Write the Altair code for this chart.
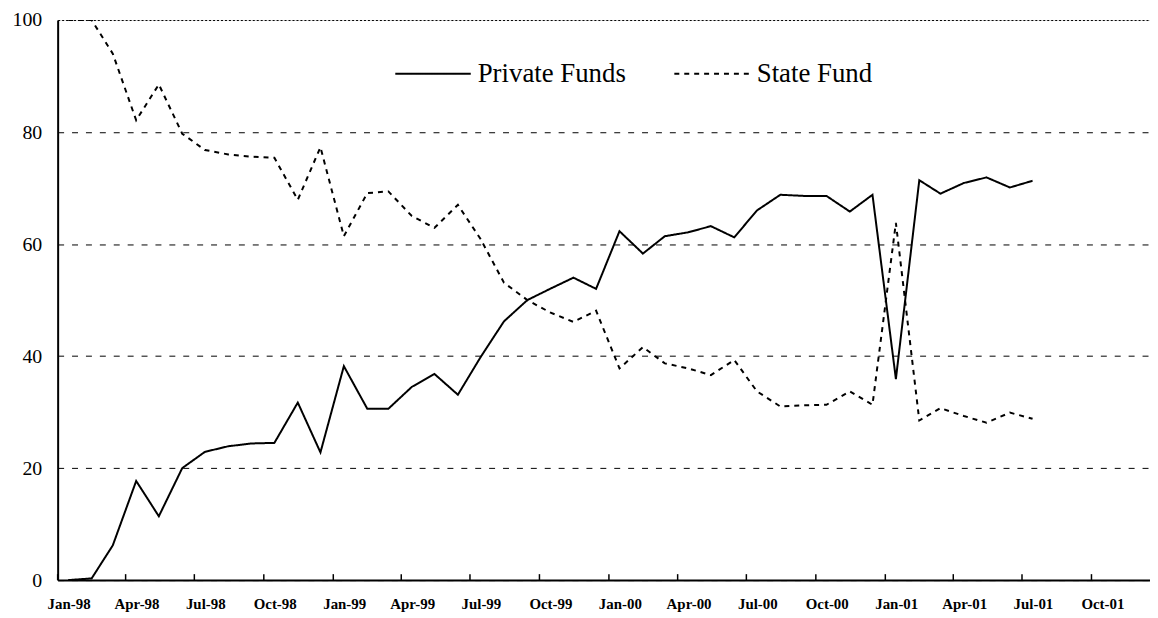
import altair as alt
import pandas as pd

months = [
    "1998-01", "1998-02", "1998-03", "1998-04", "1998-05", "1998-06",
    "1998-07", "1998-08", "1998-09", "1998-10", "1998-11", "1998-12",
    "1999-01", "1999-02", "1999-03", "1999-04", "1999-05", "1999-06",
    "1999-07", "1999-08", "1999-09", "1999-10", "1999-11", "1999-12",
    "2000-01", "2000-02", "2000-03", "2000-04", "2000-05", "2000-06",
    "2000-07", "2000-08", "2000-09", "2000-10", "2000-11", "2000-12",
    "2001-01", "2001-02", "2001-03", "2001-04", "2001-05", "2001-06",
    "2001-07",
]
private_funds = [
    0.0, 0.3, 6.2, 17.7, 11.4, 20.0, 22.9, 23.9, 24.4, 24.5, 31.7, 22.8,
    38.2, 30.6, 30.6, 34.5, 36.8, 33.1, 39.8, 46.2, 50.0, 52.0, 54.0, 52.0,
    62.3, 58.3, 61.4, 62.1, 63.2, 61.2, 66.0, 68.8, 68.6, 68.6, 65.8, 68.8,
    35.9, 71.4, 69.0, 70.9, 71.9, 70.1, 71.3,
]
state_fund = [
    100.0, 100.0, 94.0, 82.1, 88.5, 79.7, 76.8, 76.0, 75.6, 75.4, 67.9, 77.3,
    61.4, 69.1, 69.4, 65.0, 62.9, 67.0, 60.9, 53.1, 50.0, 47.8, 46.1, 48.1,
    37.8, 41.6, 38.7, 37.8, 36.6, 39.3, 33.7, 31.0, 31.2, 31.3, 33.7, 31.3,
    63.8, 28.5, 30.7, 29.3, 28.1, 29.9, 28.8,
]
tick_months = [
    "1998-01", "1998-04", "1998-07", "1998-10",
    "1999-01", "1999-04", "1999-07", "1999-10",
    "2000-01", "2000-04", "2000-07", "2000-10",
    "2001-01", "2001-04", "2001-07", "2001-10",
]
series_names = ["Private Funds", "State Fund"]

rows = []
for m, p, s in zip(months, private_funds, state_fund):
    d = m + "-15T00:00:00"
    rows.append({"date": d, "series": series_names[0], "value": p})
    rows.append({"date": d, "series": series_names[1], "value": s})
df = pd.DataFrame(rows)

ticks_df = pd.DataFrame({"date": [t + "-01T00:00:00" for t in tick_months]})

FONT = "Liberation Serif"
x_scale = alt.Scale(
    domain=[alt.DateTime(year=1998, month=1, date=1),
            alt.DateTime(year=2001, month=12, date=17, hours=12)],
    nice=False,
)
tick_values = [alt.DateTime(year=int(t[:4]), month=int(t[5:]), date=1) for t in tick_months]

lines = alt.Chart(df).mark_line(strokeWidth=2, color="black", clip=True).encode(
    x=alt.X(
        "date:T",
        scale=x_scale,
        axis=alt.Axis(
            title=None,
            values=tick_values,
            format="%b-%y",
            grid=False,
            ticks=False,
            domain=True,
            domainColor="black",
            domainWidth=2,
            labelFont=FONT,
            labelFontSize=15,
            labelFontWeight="bold",
            labelColor="black",
            labelPadding=17,
            labelOffset=11,
            labelFlush=False,
            labelOverlap=False,
        ),
    ),
    y=alt.Y(
        "value:Q",
        scale=alt.Scale(domain=[0, 100], nice=False),
        axis=alt.Axis(
            title=None,
            values=[0, 20, 40, 60, 80, 100],
            grid=True,
            gridColor="black",
            gridWidth=1,
            gridDash={"condition": {"test": "datum.value === 100", "value": [2, 2]}, "value": [6, 8]},
            ticks=False,
            domain=True,
            domainColor="black",
            domainWidth=2,
            labelFont=FONT,
            labelFontSize=20,
            labelColor="black",
            labelPadding=16,
        ),
    ),
    strokeDash=alt.StrokeDash(
        "series:N",
        scale=alt.Scale(domain=series_names, range=[[1, 0], [5, 5]]),
        legend=alt.Legend(
            title=None,
            orient="none",
            legendX=339,
            legendY=15,
            direction="horizontal",
            symbolType="stroke",
            symbolSize=5776,
            symbolStrokeWidth=2,
            symbolStrokeColor="black",
            labelFont=FONT,
            labelFontSize=27,
            labelColor="black",
            labelOffset=6,
            columnPadding=44,
            padding=0,
        ),
    ),
)

inner_ticks = alt.Chart(ticks_df).mark_rule(color="black", strokeWidth=1.5).encode(
    x=alt.X("date:T", scale=x_scale),
    y=alt.value(564),
    y2=alt.value(558),
)

chart = alt.layer(lines, inner_ticks).properties(
    width=1100,
    height=564,
    autosize=alt.AutoSizeParams(type="none"),
    padding={"left": 50, "top": 10, "right": 0, "bottom": 30},
).configure_view(stroke=None).configure(background="white")

chart.save("out.html", embed_options={"renderer": "svg", "actions": False})
